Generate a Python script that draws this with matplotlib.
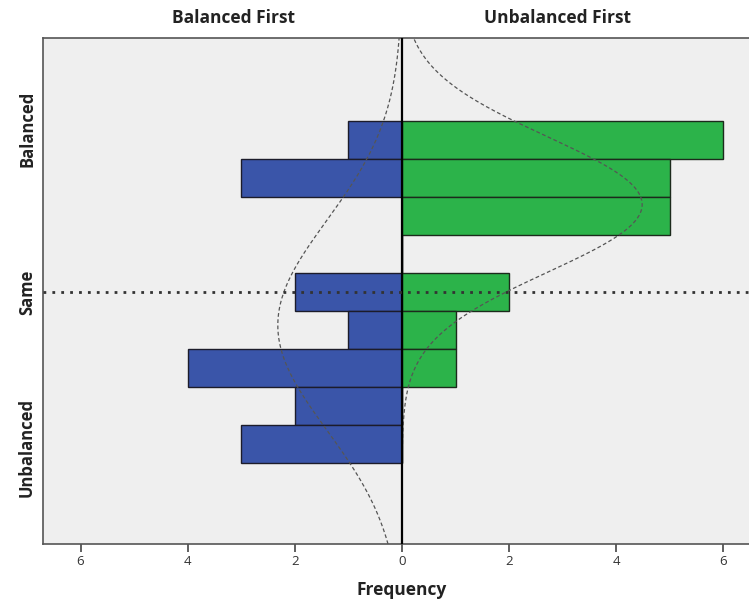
import numpy as np
import matplotlib
matplotlib.use('Agg')
import matplotlib.pyplot as plt

# bins of the difference score, top (Balanced) to bottom (Unbalanced)
bins = [4, 3, 2, 1, 0, -1, -2, -3, -4]
balanced_first = [1, 3, 0, 0, 2, 1, 4, 2, 3]
unbalanced_first = [6, 5, 5, 0, 2, 1, 1, 0, 0]
y_labels = ['Balanced', 'Same', 'Unbalanced']
y_label_pos = [4.3, 0, -4.1]
x_ticks = [-6, -4, -2, 0, 2, 4, 6]

blue = '#3a55a9'
green = '#2cb34a'

plt.rcParams['font.family'] = ['Open Sans', 'DejaVu Sans']

fig = plt.figure(figsize=(7.49, 6.03), dpi=100)
ax = fig.add_axes([43 / 749, 59 / 603, 718 / 749, 506 / 603])
ax.set_facecolor('#efefef')

ax.barh(bins, [-v for v in balanced_first], height=1, color=blue,
        edgecolor='#1c1c2a', linewidth=1, zorder=2)
ax.barh(bins, unbalanced_first, height=1, color=green,
        edgecolor='#1c2a1c', linewidth=1, zorder=2)


def normal_curve(counts, yy):
    vals = np.repeat(bins, counts)
    mu, sd = vals.mean(), vals.std(ddof=1)
    return len(vals) * np.exp(-0.5 * ((yy - mu) / sd) ** 2) / (sd * np.sqrt(2 * np.pi))


ylo, yhi = -6.63, 6.68
yy = np.linspace(ylo, yhi, 400)
ax.plot(-normal_curve(balanced_first, yy), yy, color='#555555', lw=0.9,
        linestyle=(0, (3, 2)), zorder=3)
ax.plot(normal_curve(unbalanced_first, yy), yy, color='#555555', lw=0.9,
        linestyle=(0, (3, 2)), zorder=3)

ax.axvline(0, color='black', lw=1.6, zorder=4)
ax.axhline(0, color='#333333', lw=2, linestyle=(0, (1, 2.2)), zorder=4)

ax.set_xlim(-6.7, 6.7)
ax.set_ylim(ylo, yhi)
ax.set_xticks(x_ticks)
ax.set_xticklabels([str(abs(t)) for t in x_ticks], fontsize=9.5, color='#333333')
ax.tick_params(axis='x', length=6, width=1.2, color='#444444', pad=2)
ax.set_yticks(y_label_pos)
ax.set_yticklabels(y_labels, rotation=90, va='center', fontsize=12,
                   fontweight='bold', color='#222222')
ax.tick_params(axis='y', length=0, pad=5)

for side in ['left', 'bottom', 'top', 'right']:
    ax.spines[side].set_color('#555555')
    ax.spines[side].set_linewidth(1.2)

fig.text(233 / 749, 1 - 18 / 603, 'Balanced First', ha='center', va='center',
         fontsize=12.5, fontweight='bold', color='#222222')
fig.text(557 / 749, 1 - 18 / 603, 'Unbalanced First', ha='center', va='center',
         fontsize=12.5, fontweight='bold', color='#222222')
fig.text(402 / 749, 1 - 590 / 603, 'Frequency', ha='center', va='center',
         fontsize=12.5, fontweight='bold', color='#222222')

fig.savefig('out.png', dpi=100)
